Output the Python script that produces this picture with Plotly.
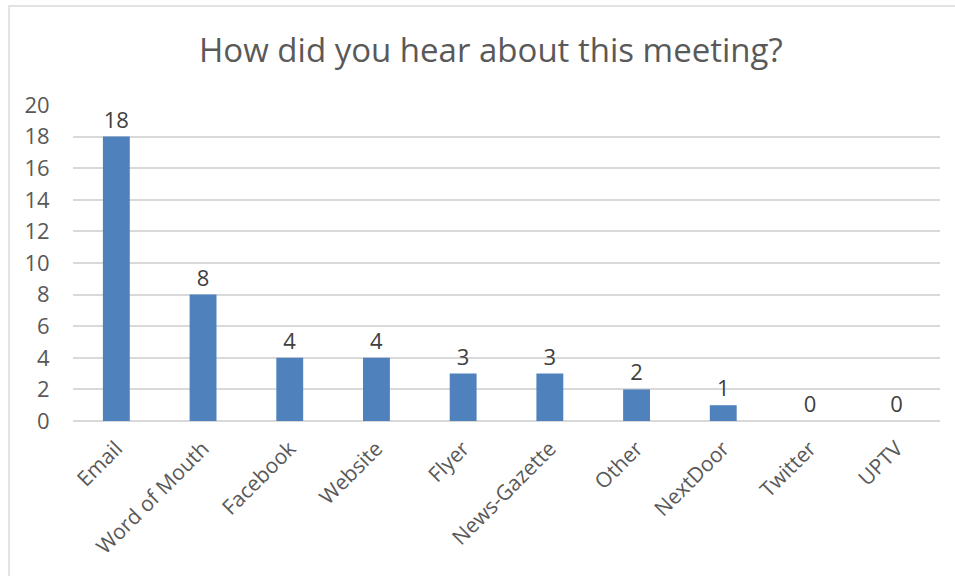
import plotly.graph_objects as go

# Survey responses: how attendees heard about the meeting
sources = ["Email", "Word of Mouth", "Facebook", "Website", "Flyer",
           "News-Gazette", "Other", "NextDoor", "Twitter", "UPTV"]
counts = [18, 8, 4, 4, 3, 3, 2, 1, 0, 0]
y_ticks = [0, 2, 4, 6, 8, 10, 12, 14, 16, 18, 20]

FONT = "Open Sans"
TEXT = "#595959"
GRID = "#D9D9D9"
BAR = "#4F81BD"
CLEAR = "rgba(0,0,0,0)"

fig = go.Figure(
    go.Bar(
        x=sources,
        y=counts,
        width=0.31,
        marker=dict(color=BAR, line=dict(width=0)),
        text=[str(c) for c in counts],
        textposition="outside",
        cliponaxis=False,
        textfont=dict(family=FONT, size=22, color="#404040"),
    )
)

fig.update_layout(
    width=955,
    height=576,
    margin=dict(l=73, r=15, t=105, b=155),
    paper_bgcolor="white",
    plot_bgcolor="white",
    showlegend=False,
    title=dict(
        text="How did you hear about this meeting?",
        font=dict(family=FONT, size=33, color=TEXT),
        x=0.514,
        xanchor="center",
        y=0.912,
        yanchor="middle",
    ),
    xaxis=dict(
        tickangle=-45,
        tickfont=dict(family=FONT, size=21, color=TEXT),
        showgrid=False,
        showline=False,
        ticks="outside",
        ticklen=6,
        tickcolor=CLEAR,
    ),
    yaxis=dict(
        range=[0, 20],
        tickvals=y_ticks,
        tickfont=dict(family=FONT, size=22, color=TEXT),
        showgrid=True,
        gridcolor=GRID,
        gridwidth=1.5,
        zeroline=True,
        zerolinecolor=GRID,
        zerolinewidth=1.5,
        showline=False,
        ticks="outside",
        ticklen=18,
        tickcolor=CLEAR,
    ),
    shapes=[
        dict(
            type="rect", xref="paper", yref="paper",
            x0=-0.0738, x1=1.3, y0=-1.0, y1=1.313,
            line=dict(color=GRID, width=1.5),
            fillcolor=CLEAR,
            layer="below",
        )
    ],
)

fig.write_html("out.html")
